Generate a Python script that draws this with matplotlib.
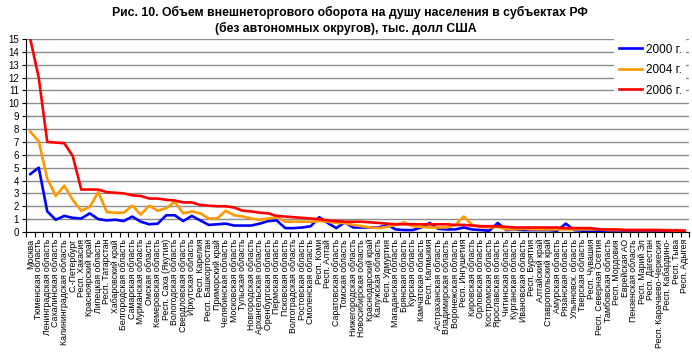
#!/usr/bin/env python3
"""Foreign trade turnover per capita by Russian region, 2000/2004/2006."""

import matplotlib
matplotlib.use("Agg")
import matplotlib.pyplot as plt

plt.rcParams["font.family"] = ["Liberation Sans", "DejaVu Sans"]

REGIONS = [
    "Москва", "Тюменская область", "Ленинградская область", "Сахалинская область",
    "Калининградская область", "С.-Петербург", "Респ. Хакасия", "Красноярский край",
    "Липецкая область", "Респ. Татарстан", "Хабаровский край", "Белгородская область",
    "Самарская область", "Мурманская область", "Омская область", "Кемеровская область",
    "Респ. Саха (Якутия)", "Вологодская область", "Свердловская область", "Иркутская область",
    "Респ. Карелия", "Респ. Башкортостан", "Приморский край", "Челябинская область",
    "Московская область", "Тульская область", "Новгородская область", "Архангельская область",
    "Оренбургская область", "Пермская область", "Псковская область", "Волгоградская область",
    "Ростовская область", "Смоленская область", "Респ. Коми", "Респ. Алтай",
    "Саратовская область", "Томская область", "Нижегородская область", "Новосибирская область",
    "Краснодарский край", "Калужская область", "Респ. Удмуртия", "Магаданская область",
    "Брянская область", "Курская область", "Камчатская область", "Респ. Калмыкия",
    "Астраханская область", "Владимирская область", "Воронежская область", "Респ. Ингушетия",
    "Кировская область", "Орловская область", "Костромская область", "Ярославская область",
    "Читинская область", "Курганская область", "Ивановская область", "Респ. Бурятия",
    "Алтайский край", "Ставропольский край", "Амурская область", "Рязанская область",
    "Ульяновск. область", "Тверская область", "Респ. Чувашия", "Респ. Северная Осетия",
    "Тамбовская область", "Респ. Мордовия", "Еврейская АО", "Пензенская область",
    "Респ. Марий Эл", "Респ. Дагестан", "Респ. Карачаево-Черкесия", "Респ. Кабардино-",
    "Респ. Тыва", "Респ. Адыгея",
]

Y2000 = [
    4.5, 5.0, 1.6, 0.95, 1.25, 1.1, 1.05, 1.45, 1.0, 0.9,
    0.95, 0.85, 1.2, 0.8, 0.6, 0.65, 1.3, 1.3, 0.85, 1.25,
    0.9, 0.55, 0.6, 0.65, 0.5, 0.5, 0.5, 0.65, 0.85, 0.9,
    0.3, 0.3, 0.35, 0.45, 1.15, 0.7, 0.3, 0.75, 0.35, 0.35,
    0.35, 0.35, 0.55, 0.2, 0.15, 0.15, 0.35, 0.7, 0.25, 0.2,
    0.2, 0.35, 0.2, 0.15, 0.1, 0.7, 0.15, 0.2, 0.15, 0.15,
    0.15, 0.15, 0.1, 0.65, 0.15, 0.1, 0.1, 0.1, 0.1, 0.08,
    0.08, 0.06, 0.06, 0.05, 0.05, 0.05, 0.15, 0.05,
]

Y2004 = [
    7.8, 7.05, 4.15, 2.8, 3.6, 2.5, 1.65, 1.95, 3.1, 1.55,
    1.5, 1.5, 2.05, 1.35, 2.05, 1.65, 1.85, 2.35, 1.45, 1.6,
    1.45, 1.05, 1.05, 1.65, 1.3, 1.2, 1.05, 0.95, 1.05, 1.15,
    0.8, 0.8, 0.8, 0.8, 0.85, 0.8, 0.7, 0.7, 0.55, 0.45,
    0.35, 0.3, 0.4, 0.55, 0.75, 0.45, 0.4, 0.35, 0.35, 0.35,
    0.55, 1.2, 0.55, 0.4, 0.35, 0.4, 0.2, 0.2, 0.25, 0.2,
    0.2, 0.2, 0.2, 0.2, 0.2, 0.2, 0.2, 0.2, 0.15, 0.15,
    0.15, 0.15, 0.15, 0.15, 0.15, 0.15, 0.12, 0.1,
]

Y2006 = [
    15.0, 12.0, 7.0, 6.95, 6.9, 5.9, 3.3, 3.3, 3.3, 3.1,
    3.05, 3.0, 2.85, 2.8, 2.6, 2.6, 2.5, 2.45, 2.3, 2.3,
    2.1, 2.05, 2.0, 2.0, 1.9, 1.65, 1.6, 1.5, 1.45, 1.25,
    1.2, 1.15, 1.1, 1.05, 1.0, 0.9, 0.85, 0.8, 0.8, 0.8,
    0.75, 0.7, 0.65, 0.6, 0.6, 0.6, 0.6, 0.6, 0.6, 0.6,
    0.55, 0.55, 0.5, 0.45, 0.45, 0.45, 0.4, 0.35, 0.35, 0.35,
    0.35, 0.35, 0.35, 0.3, 0.3, 0.3, 0.3, 0.2, 0.2, 0.2,
    0.15, 0.15, 0.15, 0.15, 0.15, 0.12, 0.12, 0.1,
]

SERIES = [("2000 г.", Y2000, "#0000ff"), ("2004 г.", Y2004, "#ff9900"), ("2006 г.", Y2006, "#ff0000")]

W, H = 692, 362
fig = plt.figure(figsize=(W / 100, H / 100), dpi=100)
ax = fig.add_axes([26 / W, 1 - 232 / H, (689 - 26) / W, (232 - 39) / H])

x = list(range(1, len(REGIONS) + 1))
for label, values, color in SERIES:
    ax.plot(x, values, color=color, linewidth=1.9, label=label, solid_joinstyle="round")

ax.set_xlim(0.5, len(REGIONS) + 0.5)
ax.set_ylim(0, 15)
ax.set_yticks(range(0, 16))
ax.yaxis.grid(True, color="#8c8c8c", linewidth=1.0)
ax.set_axisbelow(True)
for side in ("top", "right"):
    ax.spines[side].set_visible(False)
ax.spines["left"].set_linewidth(0.8)
ax.spines["bottom"].set_linewidth(0.8)

ax.tick_params(axis="y", direction="out", length=3, width=0.8, labelsize=7, pad=2)

# category boundaries carry the ticks, centres carry the labels
ax.set_xticks([i + 0.5 for i in range(0, len(REGIONS) + 1)])
ax.set_xticklabels([])
ax.tick_params(axis="x", which="major", direction="out", length=3.5, width=0.8)
ax.set_xticks(x, minor=True)
ax.set_xticklabels(REGIONS, minor=True, rotation=90, fontsize=6.3)
ax.tick_params(axis="x", which="minor", length=0, pad=5)

fig.text(0.505, 1 - 12 / H, "Рис. 10. Объем внешнеторгового оборота на душу населения в субъектах РФ",
         ha="center", va="center", fontsize=8.8, fontweight="bold")
fig.text(0.5, 1 - 28 / H, "(без автономных округов), тыс. долл США",
         ha="center", va="center", fontsize=8.8, fontweight="bold")

leg = ax.legend(loc="upper left", bbox_to_anchor=(608 / W, 1 - 33 / H),
                bbox_transform=fig.transFigure, fontsize=8.5, frameon=True,
                facecolor="white", edgecolor="none", framealpha=1, fancybox=False,
                handlelength=2.0, handletextpad=0.3, labelspacing=0.72, borderpad=0.4)

fig.savefig("out.png", dpi=100)
